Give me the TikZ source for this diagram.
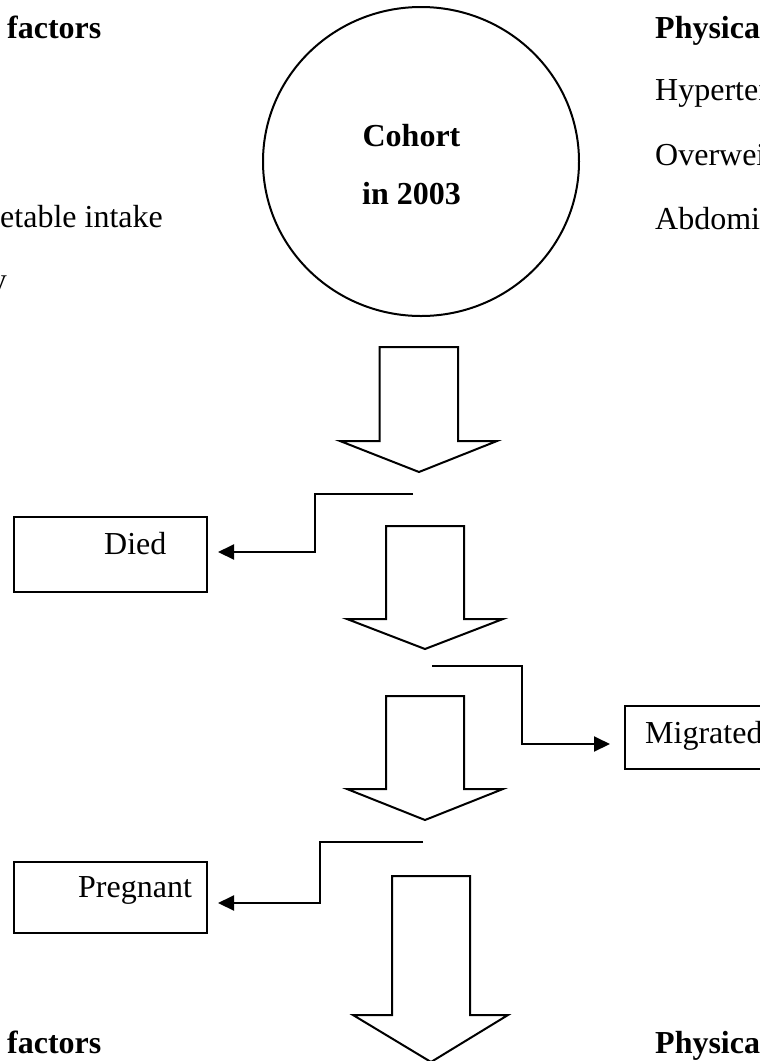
\documentclass[tikz,border=0pt]{standalone}
\usepackage{fontspec}
\setmainfont{Liberation Serif}
\usetikzlibrary{arrows.meta,shapes.geometric}
\begin{document}
\begin{tikzpicture}[x=1pt,y=-1pt,
  lw/.style={line width=2pt},
  txt/.style={anchor=base west,inner sep=0pt,font=\fontsize{32}{38}\selectfont},
  btxt/.style={txt,font=\fontsize{32}{38}\selectfont\bfseries},
  boxnode/.style={draw,lw,rectangle,inner sep=0pt},
  blk/.style={draw,lw,line join=miter,fill=white},
  conn/.style={draw,lw,-{Triangle[length=16pt,width=15pt]}}]
\useasboundingbox (0,0) rectangle (760,1061);
\clip (0,0) rectangle (760,1061);

% texts left / right
\node[btxt] (lfac) at (7,38) {factors};
\node[txt,anchor=base east] (veg) at (163,227) {getable intake};
\node[txt,anchor=base east] (act) at (7,290) {y};
\node[btxt] (phys) at (655,38) {Physical};
\node[txt] (hyp) at (655,100) {Hypertension};
\node[txt] (ovw) at (655,165) {Overweight};
\node[txt] (abd) at (655,229) {Abdominal};
\node[btxt] (lfac2) at (7,1053) {factors};
\node[btxt] (phys2) at (655,1053) {Physical};

% cohort circle
\node[draw,lw,ellipse,minimum width=316pt,minimum height=309pt,inner sep=0pt] (coh) at (421,161.5) {};
\node[btxt,anchor=base] (coh1) at (411.5,146.5) {Cohort};
\node[btxt,anchor=base] (coh2) at (411.5,204) {in 2003};

% block arrows
\draw[blk] (379.5,347) -- (458,347) -- (458,441) -- (497,441) -- (419,472) -- (340,441) -- (379.5,441) -- cycle;
\draw[blk] (386,526) -- (464,526) -- (464,619) -- (503,619) -- (425,649) -- (347,619) -- (386,619) -- cycle;
\draw[blk] (386,696) -- (464,696) -- (464,789) -- (503,789) -- (425,820) -- (347,789) -- (386,789) -- cycle;
\draw[blk] (392,876) -- (470,876) -- (470,1015) -- (508,1015) -- (431,1062) -- (353,1015) -- (392,1015) -- cycle;

% side boxes
\node[boxnode,minimum width=193pt,minimum height=75pt] (died) at (110.5,554.5) {};
\node[txt] (diedt) at (104,554) {Died};
\node[boxnode,minimum width=200pt,minimum height=63pt] (mig) at (725,737.5) {};
\node[txt] (migt) at (645,743) {Migrated};
\node[boxnode,minimum width=193pt,minimum height=71pt] (preg) at (110.5,897.5) {};
\node[txt] (pregt) at (78,897) {Pregnant};

% connectors
\coordinate (s1) at (413,494);
\coordinate (s2) at (432,666);
\coordinate (s3) at (423,842);
\draw[conn,shorten >=10pt] (s1) -- (315,494) |- ([yshift=2.5pt]died.east);
\draw[conn,shorten >=14pt] (s2) -- (522,666) |- ([yshift=-6.5pt]mig.west);
\draw[conn,shorten >=10pt] (s3) -- (320,842) |- ([yshift=-5.5pt]preg.east);
\end{tikzpicture}
\end{document}
